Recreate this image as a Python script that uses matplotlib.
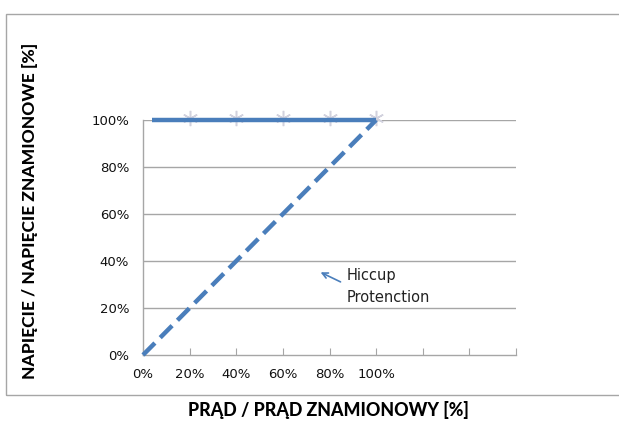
import matplotlib.pyplot as plt
from matplotlib.patches import Rectangle

# dane
ticks_x = [0.0, 0.2, 0.4, 0.6, 0.8, 1.0, 1.2, 1.4, 1.6]
labels_x = ['0%', '20%', '40%', '60%', '80%', '100%', '', '', '']
ticks_y = [0.0, 0.2, 0.4, 0.6, 0.8, 1.0]
labels_y = ['0%', '20%', '40%', '60%', '80%', '100%']

solid_x = [0.04, 1.0]
solid_y = [1.0, 1.0]
hiccup_x = [0.0, 1.0]
hiccup_y = [0.0, 1.0]
star_x = [0.2, 0.4, 0.6, 0.8, 1.0]
star_y = [1.0, 1.0, 1.0, 1.0, 1.0]

blue = '#4a7ebb'
grey = '#a6a6a6'

fig = plt.figure(figsize=(6.19, 4.21), dpi=100)
fig.patches.append(Rectangle((6/619, 1-395/421), 1.0, (395-14)/421,
                             transform=fig.transFigure, fill=False,
                             edgecolor=grey, lw=1.0))

ax = fig.add_axes([143/619, 1-355/421, 373/619, 235/421])
ax.set_xlim(0, 1.6)
ax.set_ylim(0, 1.0)

for y in ticks_y[1:]:
    ax.axhline(y, color=grey, lw=1.0, zorder=1)

ax.plot(star_x, [v + 0.008 for v in star_y], ls='none', marker=(6, 2, 0),
        ms=11, mew=1.1, color='#d2d2de', zorder=2, clip_on=False)
ax.plot(solid_x, solid_y, color=blue, lw=3.2, solid_capstyle='butt',
        zorder=3, clip_on=False)
ax.plot(hiccup_x, hiccup_y, color=blue, lw=3.2, dashes=(3.8, 1.7),
        dash_capstyle='butt', zorder=3, clip_on=False)

ax.annotate('', xy=(0.751, 0.357), xytext=(0.858, 0.306),
            arrowprops=dict(arrowstyle='->', color=blue, lw=1.2))
ax.text(0.872, 0.370, 'Hiccup\nProtenction', fontsize=10.5, va='top',
        ha='left', color='#222222', linespacing=1.6, family='DejaVu Sans')

ax.set_xticks(ticks_x)
ax.set_xticklabels(labels_x)
ax.set_yticks(ticks_y)
ax.set_yticklabels(labels_y)
ax.tick_params(axis='x', direction='in', length=5, color=grey, pad=9,
               labelsize=9.5, labelcolor='#111111')
ax.tick_params(axis='y', length=0, pad=10, labelsize=9.5,
               labelcolor='#111111')
for s in ['top', 'right']:
    ax.spines[s].set_visible(False)
for s in ['left', 'bottom']:
    ax.spines[s].set_color(grey)
    ax.spines[s].set_linewidth(1.0)

fig.text(328/619, 1-410/421, 'PRĄD / PRĄD ZNAMIONOWY [%]', ha='center',
         va='center', fontsize=12.8, fontweight='black', family='Lato')
fig.text(30/619, 1-211/421, 'NAPIĘCIE / NAPIĘCIE ZNAMIONOWE [%]',
         ha='center', va='center', rotation=90, fontsize=12.5,
         fontweight='black', family='Lato')

fig.savefig('out.png', dpi=100)
